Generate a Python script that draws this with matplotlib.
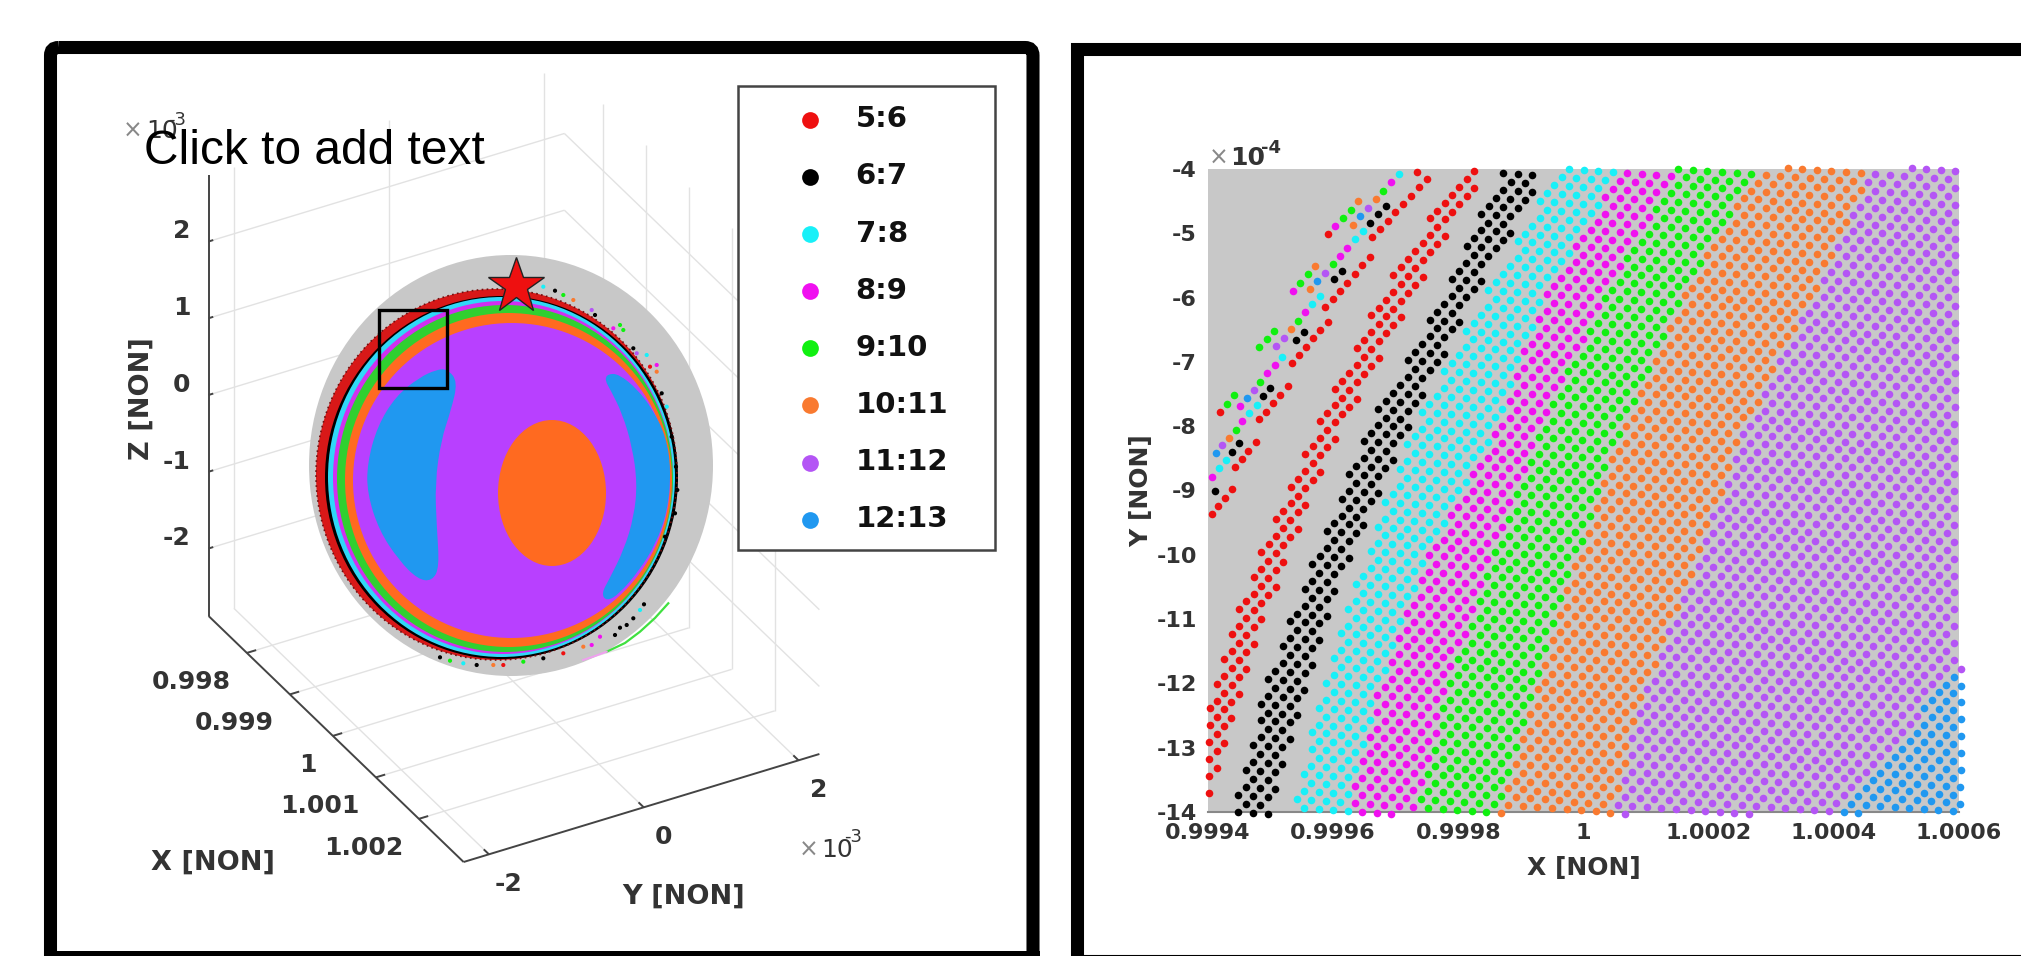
import numpy as np
import matplotlib
matplotlib.use('Agg')
import matplotlib.pyplot as plt
from matplotlib.patches import Ellipse, PathPatch, Rectangle, FancyBboxPatch
from matplotlib.path import Path

W, H = 2021, 956

labels = ['5:6', '6:7', '7:8', '8:9', '9:10', '10:11', '11:12', '12:13']
colors = ['#ee1010', '#000000', '#18f0f8', '#f010f0', '#10f010', '#f97a30', '#b455f5', '#2098f0']
gray = '#c8c8c8'
text_col = '#333333'

# right panel, axes values (x is kept as 1e-4 offset from 1)
x_ticks = [-6, -4, -2, 0, 2, 4, 6]
x_tick_labels = ['0.9994', '0.9996', '0.9998', '1', '1.0002', '1.0004', '1.0006']
y_ticks = [-4, -5, -6, -7, -8, -9, -10, -11, -12, -13, -14]

# band edges at these Y levels
edge_levels = [-14, -12, -10, -8, -6, -4]
red_left = [-6.45, -5.92, -5.20, -4.26, -3.30, -1.94]
red_right = [-6.00, -5.46, -4.74, -3.84, -2.72, -1.57]
black_left = [-5.60, -5.09, -4.29, -3.44, -2.29, -1.30]
black_right = [-5.04, -4.42, -3.73, -2.77, -1.77, -0.58]
cyan_left = [-4.66, -4.16, -3.49, -2.72, -1.61, -0.41]
magenta_left = [-3.76, -3.25, -2.50, -1.37, -0.66, 0.58]
green_left = [-2.66, -2.16, -1.46, -0.66, 0.31, 1.49]
orange_left = [-1.37, -0.74, -0.09, 0.62, 1.57, 2.74]
purple_left = [0.44, 1.03, 1.86, 2.58, 3.67, 4.61]
blue_left = [3.99, 5.79, 8.0, 10.0, 11.0, 12.0]
far_right = [20, 20, 20, 20, 20, 20]

# the packed dots sit on a regular grid: step vectors measured on the picture,
# colour of each grid dot taken from the band edges above
grid_start = (0.0, -4.02)
grid_a = (0.233, -0.016)
grid_b = (-0.117, -0.123)

# loose dots near the upper left, read one by one
loose_red_x = [-4.082, -5.803, -2.660, -2.505, -2.633, -2.755, -2.878, -3.006, -3.123, -3.251, -3.373,
               -3.405, -3.533, -3.651, -3.773, -3.885, -4.002, -4.125, -4.082, -4.205, -4.316, -4.434,
               -4.551, -4.663, -4.727, -4.844, -4.956, -5.068, -5.185, -5.238, -5.355, -5.462, -5.568,
               -5.622, -5.734, -5.835, -5.931]
loose_red_y = [-5.016, -7.774, -4.052, -4.161, -4.285, -4.415, -4.544, -4.674, -4.804, -4.933, -5.063,
               -5.363, -5.493, -5.633, -5.768, -5.892, -6.017, -6.151, -6.374, -6.504, -6.633, -6.763,
               -6.893, -7.022, -7.375, -7.515, -7.644, -7.774, -7.893, -8.251, -8.381, -8.510, -8.634,
               -8.982, -9.111, -9.241, -9.360]
loose_black_x = [-3.160, -3.288, -3.405, -3.853, -3.981, -4.471, -4.588, -5.004, -5.116, -5.499, -5.616, -5.883]
loose_black_y = [-4.575, -4.705, -4.835, -5.581, -5.711, -6.535, -6.659, -7.401, -7.530, -8.266, -8.396, -9.008]
loose_cyan_x = [-2.947, -3.528, -3.656, -4.210, -4.332, -4.812, -5.217, -5.339, -5.718, -5.830]
loose_cyan_y = [-4.083, -4.964, -5.089, -5.970, -6.100, -6.924, -7.665, -7.800, -8.526, -8.655]
loose_magenta_x = [-3.075, -3.970, -3.773, -3.890, -4.647, -4.450, -4.929, -5.052, -5.489, -5.457, -5.931]
loose_magenta_y = [-4.207, -4.886, -5.223, -5.353, -5.903, -6.229, -7.053, -7.178, -7.686, -7.924, -8.785]
loose_green_x = [-3.198, -3.720, -3.842, -4.007, -4.407, -4.524, -4.567, -4.945, -5.062, -5.185, -5.164,
                 -5.584, -5.702, -5.558]
loose_green_y = [-4.342, -4.632, -4.762, -5.483, -5.638, -5.768, -6.359, -6.519, -6.649, -6.773, -7.307,
                 -7.515, -7.650, -8.054]
loose_orange_x = [-3.320, -3.603, -3.688, -4.284, -4.370, -4.679, -5.659]
loose_orange_y = [-4.472, -4.503, -4.866, -5.509, -5.871, -6.488, -8.178]
loose_purple_x = [-3.443, -4.130, -4.791, -4.913, -5.265, -5.771]
loose_purple_y = [-4.601, -5.612, -6.623, -6.748, -7.432, -8.292]
loose_blue_x = [-3.565, -4.253, -5.382, -5.877]
loose_blue_y = [-4.731, -5.742, -7.561, -8.422]

# left panel, 3D box values and their place on the page
x3_ticks = [0.998, 0.999, 1.0, 1.001, 1.002]
x3_tick_labels = ['0.998', '0.999', '1', '1.001', '1.002']
y3_ticks = [-2, 0, 2]
z3_ticks = [-2, -1, 0, 1, 2]
x3_lim = (0.99711, 1.00304)
y3_lim = (-2.327, 2.27)
z3_lim = (-2.88, 2.87)

# sphere discs on the page: left, right, top, bottom
disc_gray = (309, 713, 255, 676)
ring_left = [316, 325, 328, 333, 337, 345, 353]
ring_right = [677, 678, 675, 673, 673, 672, 670]
ring_top = [289, 296, 297, 301, 305, 313, 323]
ring_bottom = [660, 659, 657, 654, 652, 647, 638]
ring_colors = ['#d81818', '#000000', '#30d8f8', '#d030f0', '#30d030', '#ff6a20', '#b840ff']
spot_box = (498, 606, 420, 566)
spot_color = '#ff6a20'
crescent_left_x = [446.7, 456.7, 450, 440, 434, 435.7, 438.3, 431.7, 418.3, 400, 380, 368.3, 368.3, 378.3, 396.7, 420, 436.7]
crescent_left_y = [370, 381.7, 410, 440, 483.3, 526.7, 566.7, 580, 578.3, 560, 530, 493.3, 463.3, 426.7, 396.7, 378.3, 370.7]
crescent_right_x = [608.3, 618.3, 636.7, 651.7, 665, 670, 666.7, 655, 638.3, 618.3, 606.7, 602.7, 610, 625, 635, 638.3, 633.3, 623.3, 611.7, 606]
crescent_right_y = [375, 375, 390, 410, 436.7, 470, 510, 543.3, 570, 593.3, 600, 593.3, 580, 550, 516.7, 483.3, 446.7, 413.3, 390, 380]
speck_x = [543.3, 555, 563.3, 573.3, 591.7, 595, 613.3, 620, 623.3, 633.3, 636.7, 646.7, 650, 656.7, 656.7, 661.7,
           666.7, 671.7, 676, 677.3, 675, 665, 644, 640, 633.3, 626.7, 620, 615, 600, 591.7, 583.3, 440, 450,
           463.3, 476.7, 493.3, 503.3, 523.3, 543.3, 563.3]
speck_y = [286.7, 290.7, 295, 300, 310, 315, 328.3, 325, 330, 348.3, 353.3, 355, 366.7, 365, 371.7, 393.3,
           406.7, 436.7, 466.7, 490, 513.3, 536.7, 604.3, 610, 618.3, 625, 627.7, 635, 636.7, 645, 646.7, 657.3, 660.7,
           663.3, 665, 665, 665, 661.7, 658.3, 653.3]
speck_idx = [2, 1, 4, 5, 6, 1, 3, 4, 4, 1, 6, 2, 0, 3, 5, 1,
             2, 1, 1, 1, 1, 1, 1, 2, 1, 1, 1, 1, 3, 3, 5, 1, 4,
             2, 1, 5, 0, 4, 1, 0]
arc_green_x = [606.7, 625, 640, 655, 668.3]
arc_green_y = [651.7, 643, 631.7, 618, 603.3]
arc_pink_x = [583, 595, 606.7]
arc_pink_y = [660, 656, 651.7]
star_pos = (516, 286)
zoom_box = (379, 447, 310, 388)


def project(x, y, z):
    # flat projection of the 3D box, corner and edge vectors measured on the picture
    fx = (x - x3_lim[0]) / (x3_lim[1] - x3_lim[0])
    fy = (y - y3_lim[0]) / (y3_lim[1] - y3_lim[0])
    fz = (z - z3_lim[0]) / (z3_lim[1] - z3_lim[0])
    return 208.6 + 255 * fx + 355.8 * fy, 616 + 246 * fx - 108 * fy - 441.3 * fz


def draw_line3(ax, p, q, **kw):
    a = project(*p)
    b = project(*q)
    ax.plot([a[0], b[0]], [a[1], b[1]], solid_capstyle='butt', **kw)


def draw_box(ax):
    x0, x1 = x3_lim
    y0, y1 = y3_lim
    z0, z1 = z3_lim
    grid = dict(color='#e2e2e2', lw=1.0, zorder=1)
    for x in x3_ticks:
        draw_line3(ax, (x, y0, z0), (x, y1, z0), **grid)
        draw_line3(ax, (x, y1, z0), (x, y1, z1), **grid)
    for y in y3_ticks:
        draw_line3(ax, (x0, y, z0), (x1, y, z0), **grid)
        draw_line3(ax, (x0, y, z0), (x0, y, z1), **grid)
    for z in z3_ticks:
        draw_line3(ax, (x0, y0, z), (x0, y1, z), **grid)
        draw_line3(ax, (x0, y1, z), (x1, y1, z), **grid)

    axis = dict(color='#444444', lw=1.4, zorder=5)
    draw_line3(ax, (x0, y0, z0), (x0, y0, z1), **axis)
    draw_line3(ax, (x0, y0, z0), (x1, y0, z0), **axis)
    draw_line3(ax, (x1, y0, z0), (x1, y1, z0), **axis)

    label = dict(color=text_col, fontsize=18, fontweight='bold', zorder=6)
    for z in z3_ticks:
        draw_line3(ax, (x0, y0, z), (x0, y0 + 0.06, z), **axis)
        px, py = project(x0, y0, z)
        ax.text(px - 18, py - 10, str(z), ha='right', va='center', **label)
    for x, t in zip(x3_ticks, x3_tick_labels):
        draw_line3(ax, (x, y0, z0), (x, y0 + 0.12, z0), **axis)
        px, py = project(x, y0, z0)
        ax.text(px - 16, py + 29, t, ha='right', va='center', **label)
    for y in y3_ticks:
        draw_line3(ax, (x1, y, z0), (x1 - 0.00012, y, z0), **axis)
        px, py = project(x1, y, z0)
        ax.text(px + 20, py + 30, str(y), ha='center', va='center', **label)

    label['fontsize'] = 19.5
    ax.text(142, 399, 'Z [NON]', rotation=90, ha='center', va='center', **label)
    ax.text(213, 863, 'X [NON]', ha='center', va='center', **label)
    ax.text(684, 897, 'Y [NON]', ha='center', va='center', **label)

    # exponents
    ax.text(133, 131, '\u00d7', color='#888888', fontsize=17, ha='center', va='center', zorder=6)
    ax.text(146, 131, '10', color=text_col, fontsize=18, ha='left', va='center', zorder=6)
    ax.text(168, 120, '-3', color=text_col, fontsize=13, ha='left', va='center', zorder=6)
    ax.text(809, 850, '\u00d7', color='#888888', fontsize=17, ha='center', va='center', zorder=6)
    ax.text(821, 850, '10', color=text_col, fontsize=18, ha='left', va='center', zorder=6)
    ax.text(844, 837, '-3', color=text_col, fontsize=13, ha='left', va='center', zorder=6)


def disc(box, color, **kw):
    left, right, top, bottom = box
    return Ellipse(((left + right) / 2, (top + bottom) / 2), right - left, bottom - top,
                   facecolor=color, edgecolor='none', **kw)


def smooth_patch(xs, ys, color, zorder):
    # closed outline, rounded with quadratic curves through the edge midpoints
    pts = np.column_stack([xs, ys])
    mids = (pts + np.roll(pts, -1, axis=0)) / 2
    verts = [mids[-1]]
    codes = [Path.MOVETO]
    for i in range(len(pts)):
        verts += [pts[i], mids[i]]
        codes += [Path.CURVE3, Path.CURVE3]
    return PathPatch(Path(verts, codes), facecolor=color, edgecolor=color, lw=1.5, zorder=zorder)


def draw_sphere(ax):
    ax.add_patch(disc(disc_gray, gray, zorder=2))
    for i in range(len(ring_left)):
        box = (ring_left[i], ring_right[i], ring_top[i], ring_bottom[i])
        ax.add_patch(disc(box, ring_colors[i], zorder=3))
    # speckled outer edge of the red ring
    ax.add_patch(Ellipse(((ring_left[0] + ring_right[0]) / 2, (ring_top[0] + ring_bottom[0]) / 2),
                         ring_right[0] - ring_left[0], ring_bottom[0] - ring_top[0],
                         fill=False, edgecolor='#701010', lw=1.2, ls=(0, (1, 2)), zorder=3))
    ax.add_patch(smooth_patch(crescent_left_x, crescent_left_y, colors[7], 3))
    ax.add_patch(smooth_patch(crescent_right_x, crescent_right_y, colors[7], 3))
    ax.add_patch(disc(spot_box, spot_color, zorder=3))
    ax.plot(arc_green_x, arc_green_y, color='#40e040', lw=1.6, zorder=3)
    ax.plot(arc_pink_x, arc_pink_y, color='#f0a0f0', lw=1.4, zorder=3)
    ax.scatter(speck_x, speck_y, s=9, c=[colors[i] for i in speck_idx], linewidths=0, zorder=4)
    left, right, top, bottom = zoom_box
    ax.add_patch(Rectangle((left, top), right - left, bottom - top, fill=False,
                           edgecolor='black', lw=2.4, zorder=6))
    ax.plot(star_pos[0], star_pos[1], marker='*', ms=42, mfc='#ee1010', mec='#222222', mew=1, zorder=7)


def grid_points():
    n, m = np.meshgrid(np.arange(-90, 90), np.arange(-60, 110))
    gx = grid_start[0] + n * grid_a[0] + m * grid_b[0]
    gy = grid_start[1] + n * grid_a[1] + m * grid_b[1]
    keep = (gx >= -6.03) & (gx <= 6.03) & (gy <= -3.98) & (gy >= -14.03)
    return gx[keep], gy[keep]


def draw_right(fig):
    ax = fig.add_axes([1208 / W, 1 - 812 / H, 751 / W, 643 / H], facecolor=gray)
    ax.set_xlim(-6, 6)
    ax.set_ylim(-14, -4)

    gx, gy = grid_points()
    lefts = [red_left, black_left, cyan_left, magenta_left, green_left, orange_left, purple_left, blue_left]
    rights = [red_right, black_right, magenta_left, green_left, orange_left, purple_left, blue_left, far_right]
    loose_x = [loose_red_x, loose_black_x, loose_cyan_x, loose_magenta_x, loose_green_x, loose_orange_x,
               loose_purple_x, loose_blue_x]
    loose_y = [loose_red_y, loose_black_y, loose_cyan_y, loose_magenta_y, loose_green_y, loose_orange_y,
               loose_purple_y, loose_blue_y]
    handles = []
    for i in range(len(labels)):
        lo = np.interp(gy, edge_levels, lefts[i])
        hi = np.interp(gy, edge_levels, rights[i])
        inside = (gx >= lo) & (gx < hi)
        px = np.concatenate([gx[inside], loose_x[i]])
        py = np.concatenate([gy[inside], loose_y[i]])
        handles.append(ax.scatter(px, py, s=30, color=colors[i], linewidths=0, clip_on=False,
                                  label=labels[i], zorder=3))

    for side in ['top', 'left', 'right']:
        ax.spines[side].set_visible(False)
    ax.spines['bottom'].set_color('#888888')
    ax.spines['bottom'].set_linewidth(1.5)
    ax.set_xticks(x_ticks)
    ax.set_xticklabels(x_tick_labels)
    ax.set_yticks(y_ticks)
    ax.set_yticklabels([str(v) for v in y_ticks])
    ax.tick_params(axis='both', length=0, labelsize=16, labelcolor=text_col, pad=8)
    for t in ax.get_xticklabels() + ax.get_yticklabels():
        t.set_fontweight('bold')
    ax.set_xlabel('X [NON]', fontsize=18, fontweight='bold', color=text_col, labelpad=9)
    ax.set_ylabel('Y [NON]', fontsize=18, fontweight='bold', color=text_col, labelpad=2)
    return handles


def main():
    fig = plt.figure(figsize=(W / 100, H / 100), dpi=100, facecolor='white')
    page = fig.add_axes([0, 0, 1, 1])
    page.set_xlim(0, W)
    page.set_ylim(H, 0)
    page.axis('off')

    draw_box(page)
    draw_sphere(page)
    handles = draw_right(fig)

    # panel frames
    page.add_patch(FancyBboxPatch((50.5, 47.5), 982.5, 940, boxstyle='round,pad=0,rounding_size=8',
                                  fill=False, edgecolor='black', lw=9.4, zorder=8))
    page.add_patch(Rectangle((44, 951), 996, 6, facecolor='black', edgecolor='none', zorder=8))
    page.plot([1076.5, 1076.5, 2040], [970, 48.5, 48.5], color='black', lw=9.4, solid_joinstyle='miter', zorder=8)
    page.plot([1076, 2040], [956, 956], color='black', lw=1.5, zorder=8)

    # legend box
    page.add_patch(Rectangle((738, 86), 257, 464, facecolor='white', edgecolor='#444444', lw=1.8, zorder=9))
    leg = page.legend(handles=handles, loc='upper left', bbox_to_anchor=(755 / W, 1 - 79 / H),
                      bbox_transform=fig.transFigure, frameon=False, scatterpoints=1, markerscale=2.2,
                      prop=dict(size=21, weight='bold'), labelspacing=1.0, handletextpad=0.55,
                      labelcolor='#111111')
    leg.set_zorder(10)

    page.text(143.5, 151, 'Click to add text', family='Liberation Sans', fontsize=34.5, color='black',
              ha='left', va='center', zorder=11)

    # exponent of the right panel, above the axes
    page.text(1219, 158, '\u00d7', color='#888888', fontsize=17, ha='center', va='center', zorder=6)
    page.text(1230, 158, '10', color=text_col, fontsize=18, fontweight='bold', ha='left', va='center', zorder=6)
    page.text(1261, 148, '-4', color=text_col, fontsize=13, fontweight='bold', ha='left', va='center', zorder=6)

    fig.savefig('out.png', dpi=100)


if __name__ == '__main__':
    main()
